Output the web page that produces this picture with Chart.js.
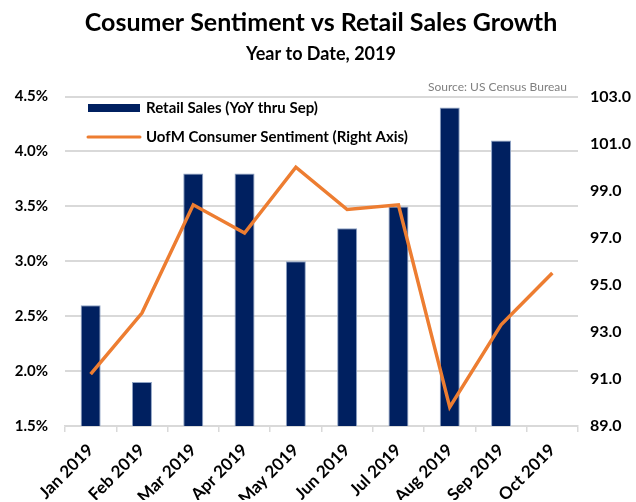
<!DOCTYPE html>
<html>
<head>
<meta charset="utf-8">
<script src="https://cdn.jsdelivr.net/npm/chart.js@4.4.1/dist/chart.umd.min.js"></script>
<style>
html,body{margin:0;padding:0;background:#fff;}
#wrap{width:636px;height:502px;}
</style>
</head>
<body>
<div id="wrap"><canvas id="chart" width="636" height="502"></canvas></div>
<script>
// data
const months = ["Jan 2019","Feb 2019","Mar 2019","Apr 2019","May 2019","Jun 2019","Jul 2019","Aug 2019","Sep 2019","Oct 2019"];
const retailSales = [2.6, 1.9, 3.8, 3.8, 3.0, 3.3, 3.5, 4.4, 4.1, null];
const sentiment = [91.2, 93.8, 98.4, 97.2, 100.0, 98.2, 98.4, 89.8, 93.3, 95.5];
const salesLabel = "Retail Sales (YoY thru Sep)";
const sentimentLabel = "UofM Consumer Sentiment (Right Axis)";

const NAVY = "#002060";
const ORANGE = "#ED7D31";
const FONT = "Lato, 'Open Sans', sans-serif";

// legend + source line drawn inside the plot
const extras = {
  id: "extras",
  afterDraw(chart){
    const ctx = chart.ctx;
    ctx.save();
    ctx.fillStyle = "#808080";
    ctx.font = "12px " + FONT;
    ctx.textAlign = "right";
    ctx.textBaseline = "middle";
    ctx.fillText("Source: US Census Bureau", 567, 87);

    ctx.textAlign = "left";
    ctx.font = "bold 15px " + FONT;
    ctx.fillStyle = NAVY;
    ctx.fillRect(88, 104, 52, 8);
    ctx.fillStyle = "#000";
    ctx.fillText(chart.data.datasets[0].label, 146, 108);

    ctx.strokeStyle = ORANGE;
    ctx.lineWidth = 3;
    ctx.lineCap = "round";
    ctx.beginPath();
    ctx.moveTo(88, 137);
    ctx.lineTo(140, 137);
    ctx.stroke();
    ctx.fillText(chart.data.datasets[1].label, 146, 137);
    ctx.restore();
  }
};

new Chart(document.getElementById("chart"), {
  type: "bar",
  data: {
    labels: months,
    datasets: [
      {
        label: salesLabel,
        data: retailSales,
        backgroundColor: NAVY,
        borderColor: "#8fa3c4",
        borderWidth: 1,
        barPercentage: 0.39,
        categoryPercentage: 1,
        yAxisID: "y",
        order: 2
      },
      {
        type: "line",
        label: sentimentLabel,
        data: sentiment,
        borderColor: ORANGE,
        borderWidth: 3.5,
        pointRadius: 0,
        tension: 0,
        yAxisID: "y1",
        order: 1
      }
    ]
  },
  options: {
    responsive: false,
    animation: false,
    layout: { padding: { top: 4, left: 8, right: 2, bottom: 2 } },
    plugins: {
      legend: { display: false },
      tooltip: { enabled: false },
      title: {
        display: true,
        text: "Cosumer Sentiment vs Retail Sales Growth",
        color: "#000",
        font: { family: FONT, size: 25, weight: "bold" },
        padding: { top: 4, bottom: 3 }
      },
      subtitle: {
        display: true,
        text: "Year to Date, 2019",
        color: "#000",
        font: { family: FONT, size: 18, weight: "bold" },
        padding: { top: 2, bottom: 32 }
      }
    },
    scales: {
      x: {
        grid: { offset: true, drawOnChartArea: false, drawTicks: true, tickLength: 6, color: "#d9d9d9", lineWidth: 1.5 },
        border: { color: "#d9d9d9", width: 1.5 },
        ticks: {
          color: "#000",
          font: { family: FONT, size: 17, weight: "bold" },
          maxRotation: 45,
          minRotation: 45,
          padding: 8
        },
        afterFit(s){ s.height = 74; }
      },
      y: {
        position: "left",
        min: 1.5,
        max: 4.5,
        ticks: {
          stepSize: 0.5,
          color: "#000",
          font: { family: FONT, size: 15, weight: "bold" },
          padding: 17,
          callback: v => v.toFixed(1) + "%"
        },
        grid: { color: "#d9d9d9", lineWidth: 2, drawTicks: false },
        border: { display: false },
        afterFit(s){ s.width = 57; }
      },
      y1: {
        position: "right",
        min: 89,
        max: 103,
        ticks: {
          stepSize: 2,
          color: "#000",
          font: { family: FONT, size: 16, weight: "bold" },
          padding: 12,
          callback: v => v.toFixed(1)
        },
        grid: { display: false, drawTicks: false },
        border: { display: false },
        afterFit(s){ s.width = 56; }
      }
    }
  },
  plugins: [extras]
});
</script>
</body>
</html>
